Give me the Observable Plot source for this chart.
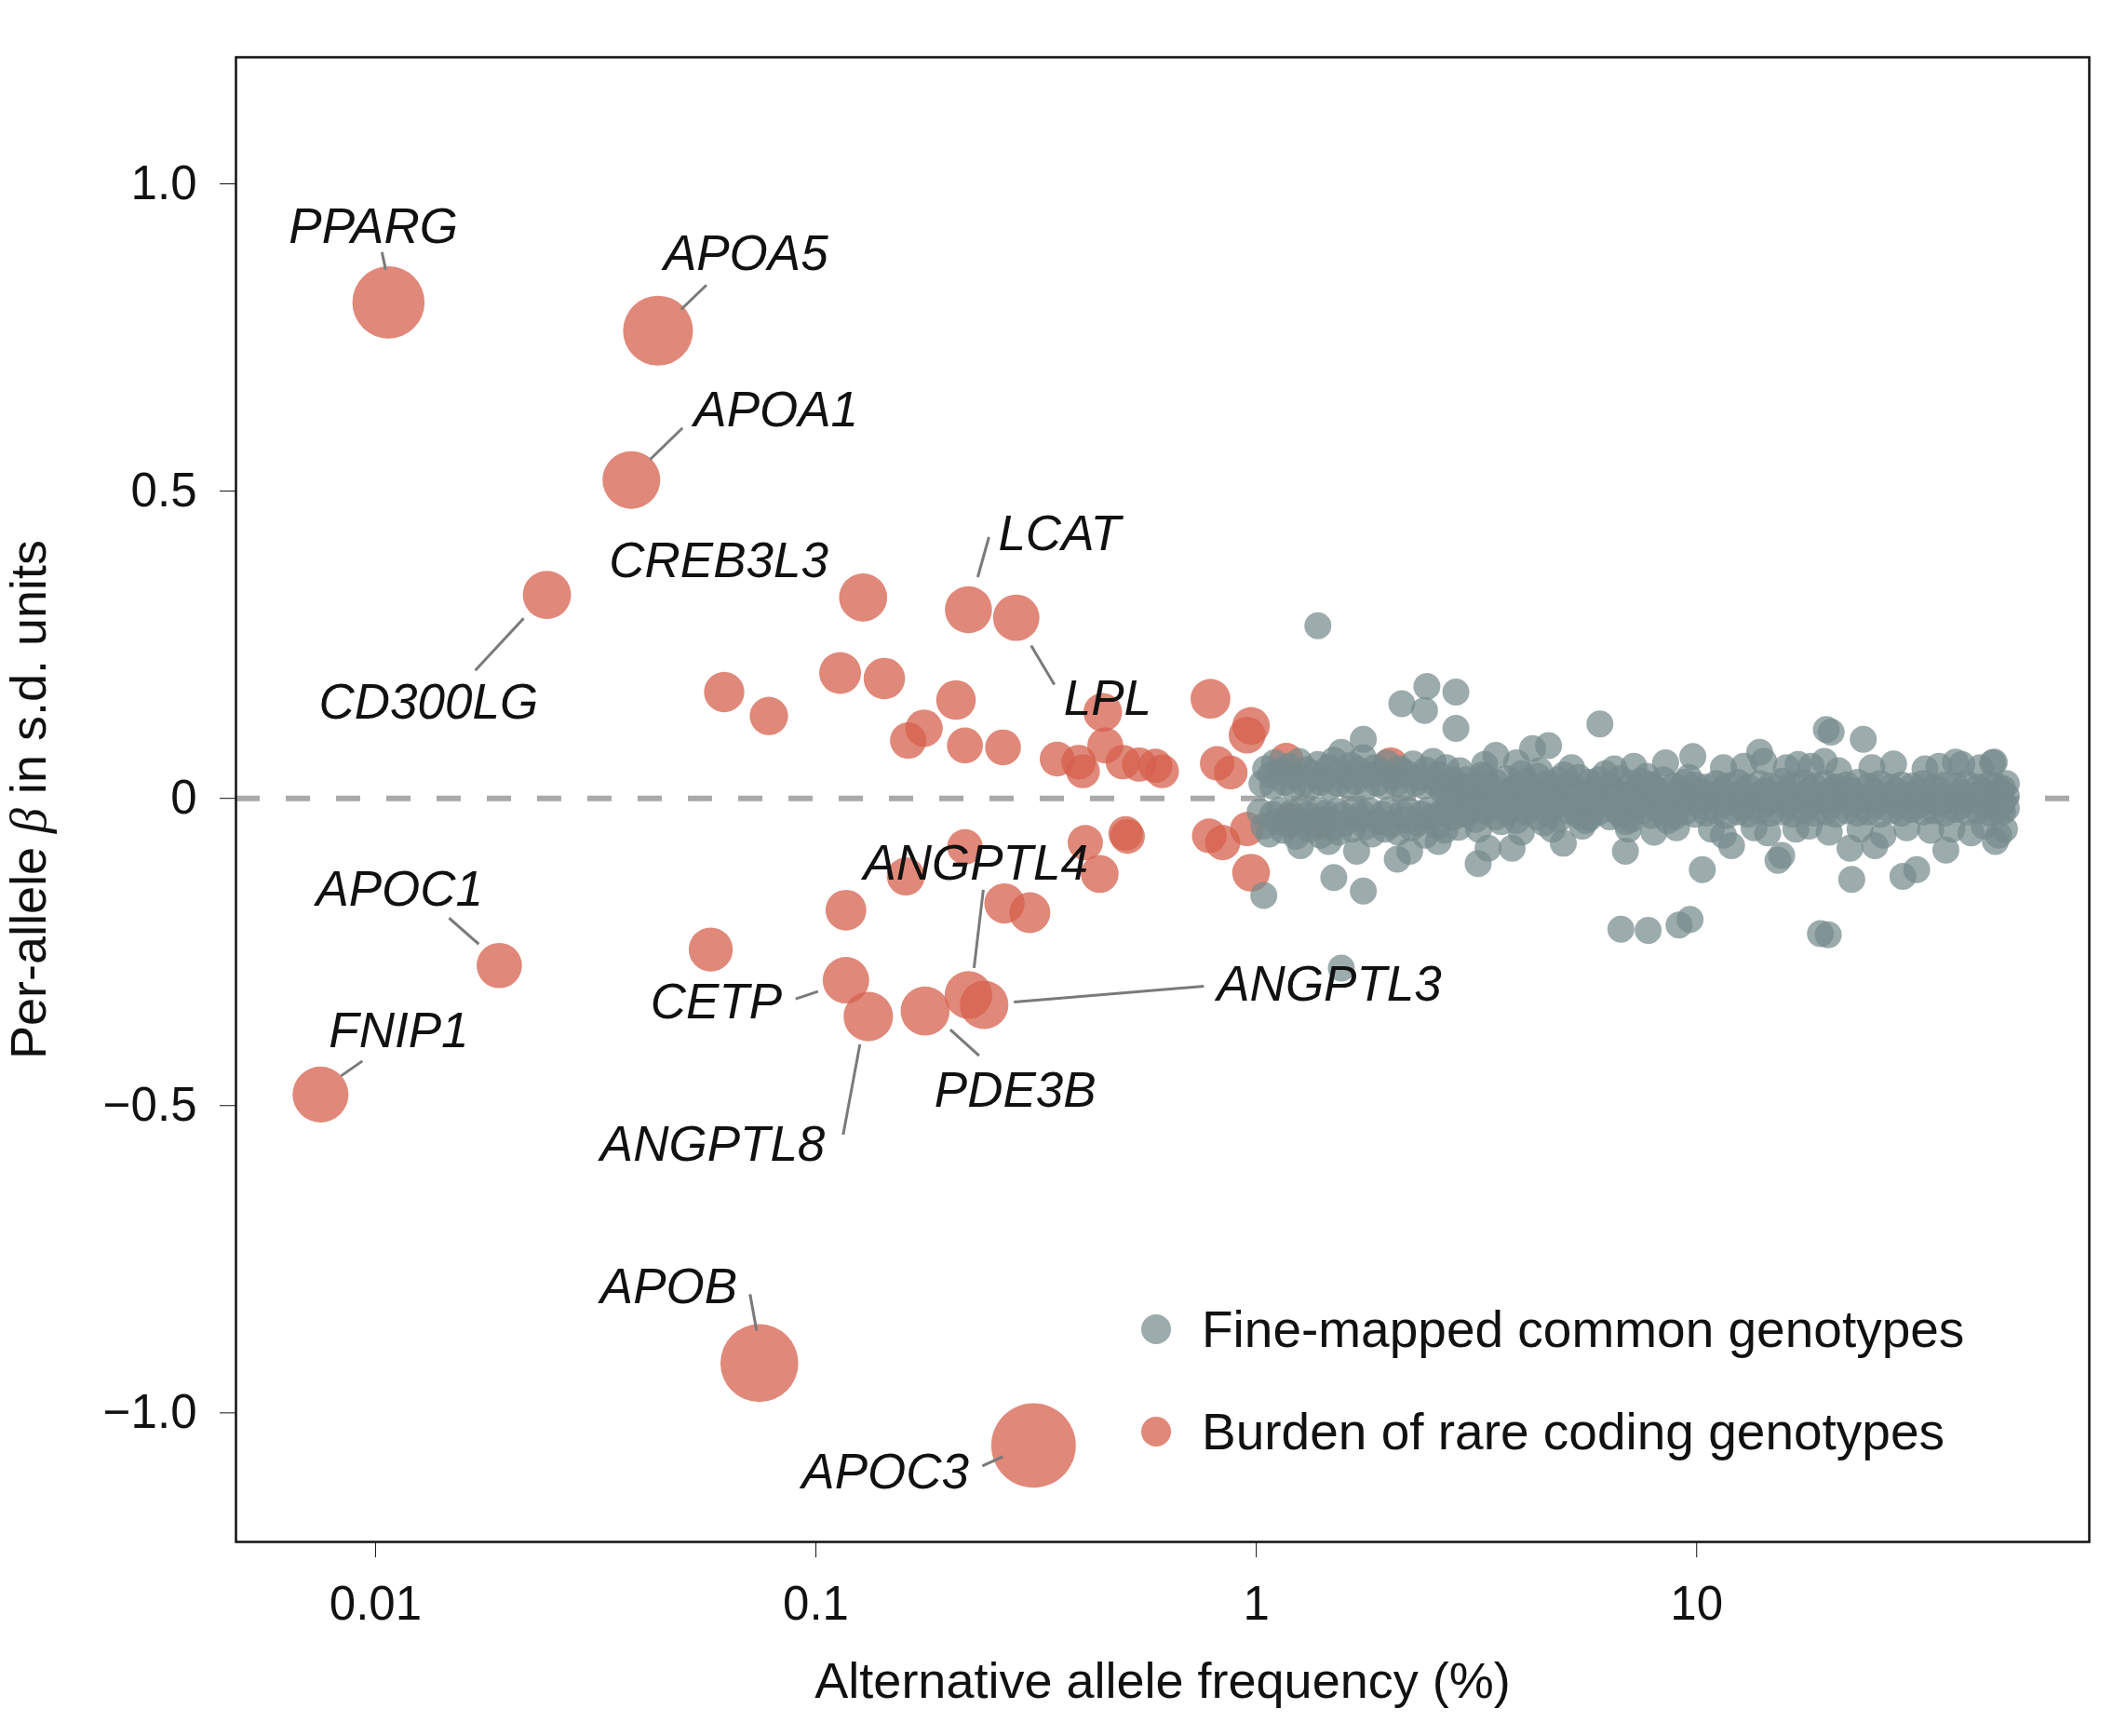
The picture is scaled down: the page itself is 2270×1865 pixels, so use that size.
<!DOCTYPE html>
<html><head><meta charset="utf-8">
<script src="https://cdn.jsdelivr.net/npm/d3@7"></script>
<script src="https://cdn.jsdelivr.net/npm/@observablehq/plot@0.6"></script>
<style>
html,body{margin:0;padding:0;background:#fff;}
#wrap{position:relative;width:2270px;height:1865px;overflow:hidden;}
#wrap svg g[aria-label*="axis"] line{stroke-width:2.5px;}
.legend{position:absolute;left:1226px;top:1373px;font-family:"Liberation Sans",Arial,sans-serif;font-size:55px;color:#111;}
.legend .row{display:flex;align-items:center;height:110px;white-space:nowrap;}
.legend .sw{width:32px;height:32px;border-radius:50%;margin-right:33px;flex:none;}
</style></head><body><div id="wrap"></div>
<script>
// ---------- data ----------
const rareGenes = ["PPARG","APOA5","APOA1","CD300LG","CREB3L3","LCAT","LPL","APOC1","FNIP1","APOB","APOC3","CETP","ANGPTL8","PDE3B","ANGPTL3","ANGPTL4"];
const rareGeneFreq = [0.0107,0.0438,0.0381,0.0245,0.128,0.222,0.285,0.0191,0.0075,0.0744,0.312,0.117,0.1315,0.177,0.241,0.222];
const rareGeneBeta = [0.807,0.761,0.518,0.331,0.327,0.307,0.294,-0.272,-0.482,-0.919,-1.053,-0.296,-0.355,-0.346,-0.336,-0.320];

const rareOtherFreq = [0.0619,0.0782,0.1135,0.143,0.208,0.176,0.162,0.218,0.266,0.353,0.395,0.404,0.448,0.454,0.498,0.542,0.590,0.611,0.787,0.973,0.953,0.815,0.875,1.17,2.02,1.39,1.19,
  0.218,0.160,0.117,0.0577,0.268,0.306,0.409,0.505,0.510,0.441,0.782,0.839,0.973,0.953];
const rareOtherBeta = [0.173,0.134,0.204,0.195,0.160,0.114,0.094,0.086,0.083,0.064,0.059,0.044,0.140,0.086,0.059,0.055,0.053,0.044,0.162,0.118,0.103,0.057,0.042,0.062,0.055,-0.040,-0.035,
  -0.079,-0.127,-0.182,-0.246,-0.171,-0.186,-0.072,-0.057,-0.062,-0.123,-0.061,-0.072,-0.121,-0.050];

// fine-mapped common genotypes: [allele frequency %, beta]
const commonLowFreqUpper = [[1.05,0.048],[1.08,0.038],[1.10,0.058],[1.14,0.044],[1.18,0.052],[1.22,0.035],[1.25,0.060],[1.30,0.046],[1.34,0.040],[1.38,0.055],[1.42,0.032],[1.46,0.050],[1.50,0.062],[1.55,0.042],[1.60,0.036],[1.64,0.054],[1.70,0.047],[1.75,0.066],[1.80,0.038],[1.86,0.050],[1.92,0.043],[1.98,0.058],[2.05,0.035],[2.12,0.048],[2.20,0.040],[2.27,0.056],[2.35,0.033],[2.43,0.046],[2.52,0.060],[2.60,0.038],[2.70,0.050],[2.80,0.030],[2.90,0.045],
  [1.03,0.024],[1.09,0.020],[1.16,0.026],[1.21,0.018],[1.28,0.024],[1.33,0.020],[1.40,0.026],[1.47,0.019],[1.53,0.024],[1.62,0.021],[1.68,0.027],[1.78,0.019],[1.88,0.025],[1.95,0.020],[2.08,0.024],[2.16,0.018],[2.30,0.025],[2.40,0.020],[2.55,0.024],[2.63,0.018],[2.74,0.026],[2.92,0.020]];
const commonLowFreqLower = [[1.04,-0.045],[1.07,-0.058],[1.11,-0.038],[1.15,-0.052],[1.19,-0.044],[1.23,-0.062],[1.27,-0.036],[1.32,-0.050],[1.36,-0.042],[1.40,-0.060],[1.45,-0.034],[1.49,-0.048],[1.54,-0.055],[1.59,-0.040],[1.65,-0.050],[1.71,-0.033],[1.77,-0.046],[1.83,-0.058],[1.90,-0.038],[1.96,-0.050],[2.03,-0.042],[2.10,-0.055],[2.18,-0.035],[2.25,-0.048],[2.33,-0.040],[2.42,-0.060],[2.50,-0.030],[2.58,-0.045],[2.68,-0.052],[2.78,-0.032],[2.88,-0.047],[2.65,0.012],[2.75,-0.008],[2.85,0.004],
  [1.02,-0.022],[1.09,-0.026],[1.13,-0.019],[1.20,-0.024],[1.26,-0.020],[1.31,-0.026],[1.38,-0.019],[1.44,-0.024],[1.52,-0.021],[1.57,-0.027],[1.67,-0.019],[1.74,-0.024],[1.81,-0.020],[1.93,-0.026],[2.00,-0.019],[2.14,-0.024],[2.22,-0.020],[2.37,-0.025],[2.46,-0.019],[2.62,-0.024],[2.72,-0.020],[2.95,-0.025]];
const commonBand = [
 [3.0,0.030],[3.0,0.004],[3.0,-0.026],[3.15,0.022],[3.15,-0.008],[3.15,-0.034],[3.3,0.035],[3.3,0.010],[3.3,-0.020],[3.5,0.026],[3.5,-0.002],[3.5,-0.030],
 [3.7,0.032],[3.7,0.006],[3.7,-0.024],[3.9,0.020],[3.9,-0.010],[3.9,-0.036],[4.1,0.028],[4.1,0.002],[4.1,-0.022],[4.35,0.036],[4.35,-0.006],[4.35,-0.030],
 [4.6,0.024],[4.6,0.008],[4.6,-0.026],[4.85,0.030],[4.85,-0.004],[4.85,-0.034],[5.1,0.022],[5.1,0.006],[5.1,-0.020],[5.4,0.034],[5.4,-0.008],[5.4,-0.028],
 [5.7,0.026],[5.7,0.002],[5.7,-0.032],[6.0,0.030],[6.0,-0.004],[6.0,-0.022],[6.35,0.020],[6.35,0.008],[6.35,-0.030],[6.7,0.032],[6.7,-0.006],[6.7,-0.026],
 [7.1,0.024],[7.1,0.004],[7.1,-0.034],[7.5,0.028],[7.5,-0.002],[7.5,-0.020],[7.9,0.022],[7.9,0.006],[7.9,-0.028],[8.4,0.030],[8.4,-0.008],[8.4,-0.024],
 [8.9,0.020],[8.9,0.002],[8.9,-0.030],[9.4,0.026],[9.4,-0.004],[9.4,-0.022],[9.9,0.022],[9.9,0.006],[9.9,-0.026],[10.5,0.018],[10.5,-0.002],[10.5,-0.024],
 [11.1,0.024],[11.1,0.004],[11.1,-0.020],[11.7,0.020],[11.7,-0.006],[11.7,-0.028],[12.4,0.026],[12.4,0.002],[12.4,-0.022],[13.1,0.018],[13.1,-0.004],[13.1,-0.026],
 [13.9,0.024],[13.9,0.006],[13.9,-0.020],[14.7,0.020],[14.7,-0.002],[14.7,-0.024],[15.6,0.028],[15.6,0.004],[15.6,-0.022],[16.5,0.022],[16.5,-0.006],[16.5,-0.026],
 [17.5,0.026],[17.5,0.002],[17.5,-0.020],[18.5,0.020],[18.5,-0.004],[18.5,-0.024],[19.6,0.024],[19.6,0.006],[19.6,-0.022],[20.7,0.018],[20.7,-0.002],[20.7,-0.026],
 [21.9,0.022],[21.9,0.004],[21.9,-0.020],[23.2,0.026],[23.2,-0.006],[23.2,-0.024],[24.6,0.020],[24.6,0.002],[24.6,-0.022],[26.1,0.024],[26.1,-0.004],[26.1,-0.026],
 [27.6,0.018],[27.6,0.004],[27.6,-0.020],[29.2,0.022],[29.2,-0.002],[29.2,-0.024],[30.9,0.020],[30.9,0.006],[30.9,-0.018],[32.7,0.024],[32.7,-0.004],[32.7,-0.022],
 [34.6,0.018],[34.6,0.002],[34.6,-0.020],[36.6,0.022],[36.6,-0.006],[36.6,-0.024],[38.8,0.020],[38.8,0.004],[38.8,-0.018],[41.1,0.024],[41.1,-0.002],[41.1,-0.022],
 [43.5,0.018],[43.5,0.006],[43.5,-0.020],[46.1,0.022],[46.1,-0.004],[46.1,-0.024],[48.0,0.020],[48.0,0.002],[48.0,-0.018],[49.5,0.016],[49.5,-0.006],[49.5,-0.022],
 [50.5,0.024],[50.5,0.004],[50.5,-0.016]];
const commonBandInner = [
 [3.07,0.016],[3.07,-0.016],[3.4,0.018],[3.4,-0.012],[3.8,0.014],[3.8,-0.018],[4.2,0.016],[4.2,-0.014],[4.7,0.012],[4.7,-0.016],[5.25,0.018],[5.25,-0.012],
 [5.85,0.014],[5.85,-0.016],[6.5,0.012],[6.5,-0.018],[7.3,0.016],[7.3,-0.012],[8.1,0.014],[8.1,-0.016],[9.1,0.012],[9.1,-0.014],[10.2,0.010],[10.2,-0.012],
 [11.4,0.012],[11.4,-0.010],[12.7,0.010],[12.7,-0.014],[14.3,0.012],[14.3,-0.010],[16.0,0.010],[16.0,-0.012],[18.0,0.012],[18.0,-0.010],[20.1,0.010],[20.1,-0.012],
 [22.5,0.012],[22.5,-0.010],[25.3,0.010],[25.3,-0.012],[28.4,0.012],[28.4,-0.010],[31.8,0.010],[31.8,-0.012],[35.6,0.012],[35.6,-0.010],[39.9,0.010],[39.9,-0.012],
 [44.8,0.012],[44.8,-0.010],[49.0,0.010],[49.0,-0.012],
 [3.25,0.038],[3.6,-0.038],[4.0,0.040],[4.5,-0.040],[5.0,0.038],[5.6,-0.036],[6.2,0.040],[6.9,-0.038],[7.7,0.036],[8.6,-0.036],[9.6,0.034]];
const commonBandEdge = [
 [3.3,0.055],[3.9,0.058],[4.4,0.045],[5.2,0.050],[6.5,0.048],[7.2,0.052],[8.5,0.058],[11.5,0.050],[12.8,0.052],[14.2,0.060],[16.0,0.050],[17.0,0.055],[18.2,0.052],[19.5,0.060],[21.0,0.045],[25.0,0.050],[28.0,0.056],[33.0,0.048],[35.5,0.052],[40.0,0.055],[44.0,0.050],[47.0,0.058],
 [3.2,-0.050],[4.0,-0.055],[4.7,-0.050],[5.5,-0.045],[7.0,-0.050],[8.0,-0.055],[9.0,-0.048],[10.8,-0.050],[11.5,-0.060],[13.5,-0.048],[14.5,-0.056],[16.8,-0.050],[18.0,-0.045],[20.0,-0.055],[23.5,-0.050],[26.5,-0.060],[30.0,-0.048],[34.0,-0.052],[38.0,-0.050],[42.0,-0.056],[45.0,-0.045],[48.5,-0.060],[50.0,-0.050]];
const commonOutliers = [
 [1.38,0.281],[2.14,0.154],[2.44,0.182],[2.84,0.173],[2.41,0.143],[2.84,0.114],[6.03,0.121],[1.75,0.096],[1.56,0.075],[4.24,0.081],[4.61,0.086],[9.8,0.068],[3.50,0.070],[13.9,0.075],[19.7,0.112],[20.2,0.108],[23.9,0.096],[38.7,0.059],[47.4,0.059],
 [1.04,-0.158],[1.50,-0.129],[1.75,-0.151],[2.09,-0.099],[2.23,-0.086],[3.19,-0.106],[3.36,-0.081],[3.81,-0.081],[4.98,-0.073],[6.89,-0.086],[6.73,-0.213],[7.76,-0.215],[9.12,-0.206],[9.66,-0.197],[10.3,-0.116],[1.26,-0.077],[1.46,-0.070],[1.69,-0.086],[2.59,-0.070],[1.56,-0.276],
 [12.0,-0.077],[15.3,-0.101],[15.6,-0.093],[22.3,-0.081],[22.5,-0.132],[25.4,-0.077],[29.4,-0.127],[31.6,-0.116],[36.8,-0.084],[47.7,-0.070],[19.1,-0.220],[19.9,-0.222]];

const xTickValues = [0.01, 0.1, 1, 10];
const xTickLabels = ["0.01", "0.1", "1", "10"];
const yTickValues = [-1, -0.5, 0, 0.5, 1];
const yTickLabels = ["\u22121.0", "\u22120.5", "0", "0.5", "1.0"];
const xTitle = "Alternative allele frequency (%)";
const yTitle = "Per-allele \u03b2 in s.d. units";
const legendLabels = ["Fine-mapped common genotypes", "Burden of rare coding genotypes"];

// ---------- layout (label placement in pixel offsets from the gene's dot) ----------
const labelLayout = {
  PPARG:   [-107, -81,  -7, -54,  -3, -35],
  APOA5:   [6, -82,  52, -49,  25, -23],
  APOA1:   [67, -75,  55, -56,  20, -22],
  CD300LG: [-245, 116,  -77, 81,  -25, 25],
  CREB3L3: [-273, -39],
  LCAT:    [32, -81,  22, -78,  10, -35],
  LPL:     [51, 87,  41, 72,  16, 30],
  APOC1:   [-197, -81,  -54, -51,  -22, -23],
  FNIP1:   [9, -68,  45, -36,  22, -20],
  APOB:    [-171, -81,  -10, -74,  -3, -35],
  APOC3:   [-249, 29,  -55, 22,  -33, 12],
  CETP:    [-210, 24,  -54, 20,  -30, 12],
  ANGPTL8: [-288, 138,  -27, 127,  -9, 30],
  PDE3B:   [10, 86,  58, 48,  27, 20],
  ANGPTL3: [250, -21,  236, -20,  32, -3],
  ANGPTL4: [-113, -141,  16, -113,  6, -29]
};

const W = 2270, H = 1865, mL = 253, mR = 26, mT = 61, mB = 209;
const X0 = 0.00482, X1 = 77.9, Y0 = -1.21, Y1 = 1.206;
const pxPerDecade = (W - mL - mR) / Math.log10(X1 / X0);
const pxPerUnit = (H - mT - mB) / (Y1 - Y0);
const offX = (x, px) => x * Math.pow(10, px / pxPerDecade);
const offY = (y, px) => y - px / pxPerUnit;

const rareRows = rareGenes.map((g, i) => ({gene: g, freq: rareGeneFreq[i], beta: rareGeneBeta[i]}))
  .concat(rareOtherFreq.map((f, i) => ({gene: "", freq: f, beta: rareOtherBeta[i]})));
const commonRows = [...commonLowFreqUpper, ...commonLowFreqLower, ...commonBand, ...commonBandInner, ...commonBandEdge, ...commonOutliers]
  .map(([f, b]) => ({freq: f, beta: b}));
const labelRows = rareRows.filter(d => d.gene).map(d => ({...d, lay: labelLayout[d.gene]}));
const leaderRows = labelRows.filter(d => d.lay.length > 2);

const xFmt = new Map(xTickValues.map((v, i) => [v, xTickLabels[i]]));
const yFmt = new Map(yTickValues.map((v, i) => [v, yTickLabels[i]]));
const FONT = '"Liberation Sans", Arial, Helvetica, sans-serif';

const chart = Plot.plot({
  width: W, height: H,
  marginLeft: mL, marginRight: mR, marginTop: mT, marginBottom: mB,
  style: {fontFamily: FONT, fontSize: "51px", color: "#111", background: "#fff", overflow: "visible"},
  x: {type: "log", domain: [X0, X1], ticks: xTickValues, tickFormat: d => xFmt.get(d) ?? "", tickSize: 17, tickPadding: 30, label: null},
  y: {domain: [Y0, Y1], ticks: yTickValues, tickFormat: d => yFmt.get(d) ?? "", tickSize: 17, tickPadding: 25, label: null},
  r: {type: "linear", domain: [0, 1], range: [17, 44]},
  marks: [
    Plot.ruleY([0], {stroke: "#a9a9a9", strokeWidth: 6, strokeDasharray: "26,28"}),
    Plot.dot(rareRows, {x: "freq", y: "beta", r: d => Math.abs(d.beta), fill: "#d6604c", fillOpacity: 0.75, stroke: "none"}),
    Plot.dot(commonRows, {x: "freq", y: "beta", r: 14.5, fill: "#768a8c", fillOpacity: 0.72, stroke: "none"}),
    Plot.link(leaderRows, {
      x1: d => offX(d.freq, d.lay[2]), y1: d => offY(d.beta, d.lay[3]),
      x2: d => offX(d.freq, d.lay[4]), y2: d => offY(d.beta, d.lay[5]),
      stroke: "#7a7a7a", strokeWidth: 3
    }),
    Plot.text(labelRows, {
      x: d => offX(d.freq, d.lay[0]), y: d => offY(d.beta, d.lay[1]),
      text: "gene", textAnchor: "start", fontStyle: "italic", fontSize: 53, fill: "#111"
    }),
    Plot.text([xTitle], {text: d => d, frameAnchor: "bottom", dy: 167, fontSize: 54, fill: "#111"}),
    Plot.text([yTitle], {text: d => d, frameAnchor: "left", dx: -222, rotate: -90, textAnchor: "middle", fontSize: 54, fill: "#111"}),
    Plot.frame({stroke: "#111", strokeWidth: 2.5})
  ]
});

// italic beta in the y title
d3.select(chart).selectAll("text").filter(function() { return this.textContent === yTitle; }).each(function() {
  const t = d3.select(this);
  t.text(null);
  t.attr("text-anchor", "middle");
  t.append("tspan").text("Per-allele ");
  t.append("tspan").attr("font-style", "italic").attr("font-family", '"Liberation Serif", "DejaVu Serif", serif').text("\u03b2");
  t.append("tspan").text(" in s.d. units");
});

const wrap = document.getElementById("wrap");
wrap.appendChild(chart);

// legend
const legend = document.createElement("div");
legend.className = "legend";
const swatchColors = ["#9cabac", "#e08879"];
legendLabels.forEach((lab, i) => {
  const row = document.createElement("div");
  row.className = "row";
  const sw = document.createElement("span");
  sw.className = "sw";
  sw.style.background = swatchColors[i];
  const tx = document.createElement("span");
  tx.textContent = lab;
  row.appendChild(sw); row.appendChild(tx);
  legend.appendChild(row);
});
wrap.appendChild(legend);
</script></body></html>
